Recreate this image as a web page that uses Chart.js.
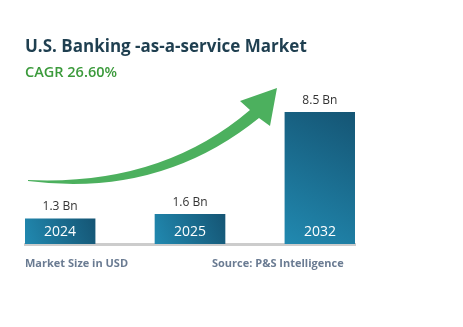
<!DOCTYPE html>
<html>
<head>
<meta charset="utf-8">
<script src="https://cdn.jsdelivr.net/npm/chart.js@4"></script>
<style>
  html, body { margin: 0; padding: 0; background: #fff; }
  #wrap { width: 463px; height: 327px; }
</style>
</head>
<body>
<div id="wrap"><canvas id="myChart" width="463" height="327"></canvas></div>
<script>
// années et taille du marché (en milliards USD)
var annees = ['2024', '2025', '2032'];
var valeurs = [1.3, 1.6, 8.5];
var etiquettes = ['1.3 Bn', '1.6 Bn', '8.5 Bn'];

var titre = 'U.S. Banking -as-a-service Market';
var sousTitre = 'CAGR 26.60%';
var noteGauche = 'Market Size in USD';
var noteDroite = 'Source: P&S Intelligence';

var BASE = -0.4; // pied des barres sur l'axe Y

// dégradé bleu de chaque barre (clair en bas à gauche, foncé en haut à droite)
function couleurBarre(ctx) {
    var chart = ctx.chart;
    if (!chart.chartArea || !chart.scales.x) return '#1b7298';
    var x = chart.scales.x.getPixelForValue(ctx.dataIndex);
    var yHaut = chart.scales.y.getPixelForValue(valeurs[ctx.dataIndex]);
    var yBas = chart.scales.y.getPixelForValue(BASE);
    var g = chart.ctx.createLinearGradient(x - 35, yBas, x + 35, yHaut);
    g.addColorStop(0, '#2189b0');
    g.addColorStop(1, '#155574');
    return g;
}

// textes, flèche et libellés des barres
var decor = {
    id: 'decor',
    beforeDatasetsDraw: function(chart) {
        var c = chart.ctx;
        // flèche verte montante
        c.save();
        c.fillStyle = '#4cb05e';
        c.beginPath();
        c.moveTo(28, 180);
        c.quadraticCurveTo(161, 186, 250, 110);
        c.lineTo(240, 101);
        c.lineTo(277, 88);
        c.lineTo(270, 126);
        c.lineTo(259, 118);
        c.quadraticCurveTo(160, 198, 28, 181);
        c.closePath();
        c.fill();
        c.restore();
    },
    afterDatasetsDraw: function(chart) {
        var c = chart.ctx;
        var sx = chart.scales.x, sy = chart.scales.y;
        c.save();
        c.textAlign = 'center';
        c.textBaseline = 'middle';
        for (var i = 0; i < valeurs.length; i++) {
            var x = sx.getPixelForValue(i);
            c.fillStyle = '#333333';
            c.font = '12px "Open Sans"';
            c.fillText(etiquettes[i], x, sy.getPixelForValue(valeurs[i]) - 12);
            c.fillStyle = '#ffffff';
            c.font = '14px "Open Sans"';
            c.fillText(annees[i], x, chart.chartArea.bottom - 12);
        }
        c.textAlign = 'left';
        c.fillStyle = '#1f3f50';
        c.font = 'bold 17px "Open Sans"';
        c.fillText(titre, 25, 47);
        c.fillStyle = '#3b9a3b';
        c.font = '600 14.5px "Open Sans"';
        c.fillText(sousTitre, 25, 73);
        c.fillStyle = '#6a7b92';
        c.font = 'bold 11px "Open Sans"';
        c.fillText(noteGauche, 25, 264);
        c.fillText(noteDroite, 212, 264);
        c.restore();
    }
};

var ctx = document.getElementById('myChart').getContext('2d');
var myChart = new Chart(ctx, {
    type: 'bar',
    data: {
        datasets: [{
            data: valeurs.map(function(v, i) { return { x: i, y: v }; }),
            base: BASE,
            barThickness: 70,
            backgroundColor: couleurBarre,
            borderWidth: 0
        }]
    },
    options: {
        responsive: false,
        animation: false,
        layout: { padding: { left: 25, right: 108, top: 90, bottom: 83 } },
        plugins: { legend: { display: false }, tooltip: { enabled: false } },
        scales: {
            x: {
                type: 'linear',
                offset: false,
                min: -0.27,
                max: 2.27,
                ticks: { display: false },
                grid: { display: false, drawTicks: false },
                border: { display: true, color: '#cccccc', width: 3 }
            },
            y: {
                min: BASE,
                max: 10,
                display: false
            }
        }
    },
    plugins: [decor]
});
</script>
</body>
</html>
